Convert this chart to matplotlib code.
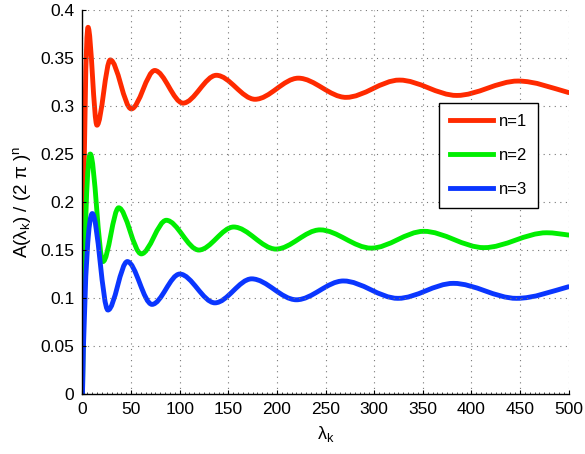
import matplotlib
matplotlib.use("Agg")  # headless, we only save the figure
import matplotlib.pyplot as plt
from matplotlib.path import Path
from matplotlib.patches import PathPatch
from matplotlib.ticker import MultipleLocator

# Extrema of each curve (lambda_k, A / (2 pi)^n)
lam_n1 = [0, 5.7, 14.9, 28.6, 50.2, 74.3, 103.4, 137.7, 177.5, 222, 271, 326, 385, 448, 500]
val_n1 = [0, 0.382, 0.280, 0.348, 0.297, 0.337, 0.303, 0.332, 0.307, 0.329, 0.309, 0.327, 0.311, 0.326, 0.314]

lam_n2 = [0, 8.0, 21.1, 37.2, 60.5, 86.2, 119.7, 155.5, 199, 244.3, 297, 351, 413, 477.5, 500]
val_n2 = [0, 0.250, 0.138, 0.194, 0.146, 0.181, 0.150, 0.174, 0.151, 0.171, 0.152, 0.1695, 0.1525, 0.168, 0.1656]

lam_n3 = [0, 10.1, 26.2, 46.1, 71.5, 100, 136.2, 174, 220, 268.3, 324.5, 381.5, 446.5, 500]
val_n3 = [0, 0.188, 0.0875, 0.138, 0.0934, 0.125, 0.0950, 0.120, 0.0982, 0.1178, 0.0997, 0.1153, 0.0997, 0.1118]

labels = ["n=1", "n=2", "n=3"]
colors = ["#ff2a00", "#00ee00", "#0a36ff"]

x_ticks = [0, 50, 100, 150, 200, 250, 300, 350, 400, 450, 500]
y_ticks = [0, 0.05, 0.1, 0.15, 0.2, 0.25, 0.3, 0.35, 0.4]
y_tick_labels = ["0", "0.05", "0.1", "0.15", "0.2", "0.25", "0.3", "0.35", "0.4"]

plt.rcParams["font.family"] = ["Liberation Sans", "DejaVu Sans"]
plt.rcParams["mathtext.fontset"] = "custom"
plt.rcParams["mathtext.rm"] = "Liberation Sans"
plt.rcParams["mathtext.it"] = "Liberation Sans:italic"


# Smooth path through the extrema: flat tangents at every peak/trough
def wave_path(lam, val):
    verts = [(lam[0], val[0])]
    codes = [Path.MOVETO]
    last = len(lam) - 2
    for i in range(len(lam) - 1):
        x0, y0, x1, y1 = lam[i], val[i], lam[i + 1], val[i + 1]
        dx = x1 - x0
        if i == 0:
            c1 = (x0 + 0.25 * dx, y0 + 0.75 * (y1 - y0))  # steep initial rise
        else:
            c1 = (x0 + dx / 3, y0)
        if i == last:
            c2 = (x1 - dx / 3, y1 + 0.4 * (y0 - y1))  # still moving at the right edge
        else:
            c2 = (x1 - dx / 3, y1)
        verts += [c1, c2, (x1, y1)]
        codes += [Path.CURVE4] * 3
    return Path(verts, codes)


fig = plt.figure(figsize=(5.85, 4.54), dpi=100)
ax = fig.add_axes([0.141, 0.132, 0.831, 0.846])

for lam, val, c, lab in zip([lam_n1, lam_n2, lam_n3], [val_n1, val_n2, val_n3], colors, labels):
    ax.add_patch(PathPatch(wave_path(lam, val), facecolor="none", edgecolor=c,
                           lw=3.5, capstyle="round", joinstyle="round"))
    ax.plot([], [], color=c, lw=3.5, label=lab)  # legend handle

ax.set_xlim(0, 500)
ax.set_ylim(0, 0.4)
ax.set_xticks(x_ticks)
ax.set_yticks(y_ticks)
ax.set_yticklabels(y_tick_labels)
ax.xaxis.set_minor_locator(MultipleLocator(5))
ax.tick_params(which="both", direction="in", labelsize=12.5)
ax.tick_params(which="major", length=3, width=0.8)
ax.tick_params(which="minor", length=1.5, width=0.5)
ax.tick_params(axis="y", pad=6)
ax.tick_params(axis="x", pad=6)
for side in ["top", "right"]:
    ax.spines[side].set_visible(False)
ax.spines["left"].set_linewidth(1.0)
ax.spines["bottom"].set_linewidth(1.0)
ax.grid(True, color="#777777", linestyle=(0, (1, 4)), linewidth=0.8)

ax.set_xlabel("λ$_\\mathrm{k}$", fontsize=13, labelpad=5)
ax.set_ylabel("A(λ$_\\mathrm{k}$) / (2 π )$^\\mathrm{n}$", fontsize=13.5, labelpad=5)

leg = ax.legend(loc="upper left", bbox_to_anchor=(0.733, 0.758), borderaxespad=0,
                fontsize=12, handlelength=2.6, handletextpad=0.35, labelspacing=1.15,
                borderpad=0.65, fancybox=False, framealpha=1, edgecolor="black")
leg.get_frame().set_linewidth(1.0)

plt.savefig("out.png", dpi=100)
